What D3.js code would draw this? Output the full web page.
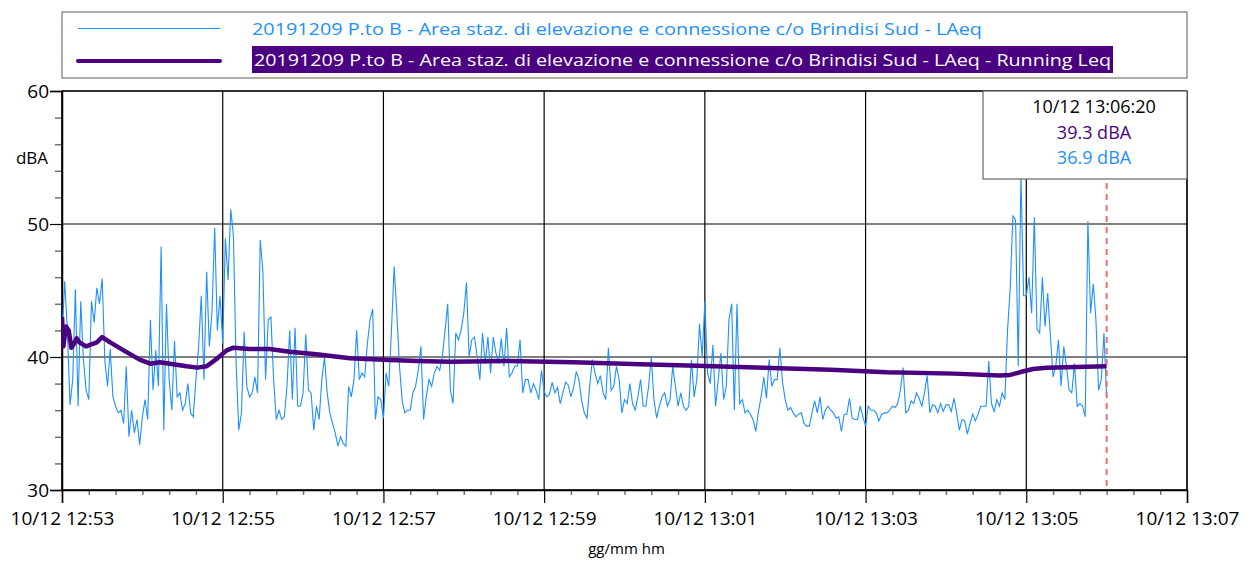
<!DOCTYPE html>
<html>
<head>
<meta charset="utf-8">
<script src="https://cdn.jsdelivr.net/npm/d3@7"></script>
<style>
  body { margin: 0; background: #fff; }
  text { font-family: "Open Sans", sans-serif; }
</style>
</head>
<body>
<div id="chart"></div>
<script>
// measurement start, one LAeq value every 2 s
const START = new Date(2019, 11, 10, 12, 53, 20);
const STEP_S = 2;

const LAEQ = [
  41.5,45.7,42,36.4,38.3,45.1,36.3,44.2,39.8,37.5,
  36.8,44.2,42.6,45.2,44,45.9,39.7,37.8,40.6,37,
  36.3,35.8,36,35,39.3,34,36,34.3,35.3,33.4,
  35.5,36.8,35.3,42.8,37.5,40.5,37.8,48.3,34.5,44,
  38.3,36,41.2,37,37.3,36,36.5,38,35.8,35.5,
  38.3,40.8,44.6,38.3,46.4,40.8,43.4,49.7,42,44.6,
  41,48.9,45.8,51.1,49.1,39.5,34.5,35.8,41.9,37.8,
  37,37.3,38.5,37.3,48.8,46.4,38.3,42.8,43,38.3,
  35.3,36,35.3,35.5,37.8,42,36.8,42.2,36.3,36.3,
  37.3,41.7,37.5,37.3,34.5,36.3,35.3,38.3,40,37.3,
  35.8,35,34.3,33.3,34,33.5,33.3,37.8,37,38.3,
  42,38.3,38.8,38.5,41,42.8,43.6,35.3,37,36.8,
  35.4,38.8,37.8,42,46.8,43.3,39.3,36.7,35.8,36,
  36,37.3,37.8,39,40.8,35.3,37,38.3,37.8,38.8,
  39.3,39,40,42,44,37.5,36.5,41.8,41.3,42,
  43.3,45.6,40,41.3,41.5,40,38.3,41.8,39.5,41.5,
  38.8,41.5,40.3,39.5,41.4,39.3,42.2,38.5,38.8,39.3,
  39.3,41.3,37.3,38.3,38.3,37.3,38,37.5,36.8,39,
  37.4,37,37.2,38.1,37.3,37.7,36.5,37.3,38.1,37.9,
  37,37.7,38.9,38.3,36.7,35.8,35.4,37.8,39.8,38.8,
  38,38.6,37.3,36.8,40.7,37.5,37.8,39.3,38.3,35.8,
  36.8,36.5,38,36.5,36,37,38.3,36.3,36.3,37.8,
  40,36.8,35.4,36.3,37,37.3,36.3,36.8,39.3,37.8,
  36.3,37.3,36.3,36,36.3,39.8,37,38.3,42.5,40,
  44.2,38.8,38,40.9,36.3,38.3,40.3,36.8,37.8,42.8,
  44,36,44,36.5,36.8,35.8,36,35.7,35.3,34.4,
  35.9,37,38.5,36.9,39.8,37.8,38.3,38.3,40.7,38.1,
  36.8,36,36.2,35.8,35.5,35.7,35.8,35,34.8,34.8,
  35.8,36.7,35.8,37,35.3,36,36.3,36,35.8,35.4,
  35.5,34.4,35.7,35.7,36.9,35.4,35.3,35.3,36.3,35.5,
  34.8,36.3,36,36,35.8,35.2,35.7,35.8,35.8,36,
  36.3,36.2,36.5,37.5,39.2,35.8,36,36.7,36.5,37.3,
  36.9,36.3,37.3,38.6,35.8,36.4,36.3,35.8,36.5,35.9,
  36.4,36.4,35.9,36.9,35.8,34.5,35.3,35.2,34.2,35,
  35.7,35.2,35.7,36.3,36.3,36.3,39.7,36.5,35.9,36.8,
  36.3,37.3,36.8,42,45.2,50.6,50.3,39.3,53.7,44.6,
  44.6,46,43.3,50.5,42.1,41.8,46,42.3,44.8,41.6,
  38.5,39.3,41.3,37.8,40.8,39.3,37.5,37.3,39.5,36.3,
  36.5,36.3,35.5,50.2,43.3,45.5,42.8,37.5,38.3,41.8,
  36.9
];

// running Leq, seconds from START
const RUN_T = [0,1,3,5,7,9,11,13,18,26,30,36,46,58,66,73,93,101,108,116,123,128,140,155,170,190,215,240,265,290,332,382,432,474,524,574,616,666,700,708,715,725,735,780];
const RUN_LEQ = [43.0,40.8,42.3,42.0,40.7,41.0,41.4,41.1,40.8,41.1,41.5,41.1,40.5,39.8,39.5,39.6,39.3,39.2,39.3,39.9,40.5,40.7,40.6,40.6,40.4,40.2,39.9,39.8,39.7,39.65,39.7,39.6,39.45,39.35,39.2,39.05,38.85,38.75,38.6,38.65,38.85,39.1,39.2,39.3];

const Y_MAJOR = [30, 40, 50, 60];
const Y_MINOR = [32, 34, 36, 38, 42, 44, 46, 48, 52, 54, 56, 58];
const X_MAJOR_MIN = [0, 2, 4, 6, 8, 10, 12, 14];
const CURSOR_S = 780;

const LEGEND_LABELS = [
  "20191209 P.to B - Area staz. di elevazione e connessione c/o Brindisi Sud - LAeq",
  "20191209 P.to B - Area staz. di elevazione e connessione c/o Brindisi Sud - LAeq - Running Leq"
];
const BLUE = "#1e90ff", PURPLE = "#4b0082";

const width = 1254, height = 561;
const plot = {left: 62, right: 1187, top: 91, bottom: 490};

const svg = d3.select("#chart").append("svg")
  .attr("width", width).attr("height", height);

const secs = s => new Date(+START + s * 1000);

let x = d3.scaleTime()
  .domain([START, secs(14 * 60)])
  .range([plot.left, plot.right]);
let y = d3.scaleLinear()
  .domain([30, 60])
  .range([plot.bottom, plot.top]);

const laeqData = LAEQ.map((v, i) => ({t: secs(i * STEP_S), v: v}));
const runData = RUN_T.map((s, i) => ({t: secs(s), v: RUN_LEQ[i]}));
const xMajor = X_MAJOR_MIN.map(m => secs(m * 60));
const xMinor = d3.range(0, 14 * 60 + 1, 20).filter(s => s % 120 != 0).map(secs);

// grid
svg.append("g").selectAll("line").data(xMajor).join("line")
  .attr("x1", d => x(d)).attr("x2", d => x(d))
  .attr("y1", plot.top).attr("y2", plot.bottom)
  .attr("stroke", "#000").attr("stroke-width", 1.2);
svg.append("g").selectAll("line").data(Y_MAJOR).join("line")
  .attr("x1", plot.left).attr("x2", plot.right)
  .attr("y1", d => y(d)).attr("y2", d => y(d))
  .attr("stroke", "#000").attr("stroke-width", 1.2);

// minor ticks
svg.append("g")
  .attr("transform", `translate(0,${plot.bottom})`)
  .call(d3.axisBottom(x).tickValues(xMinor).tickSize(5).tickFormat(""))
  .call(g => g.select(".domain").remove())
  .call(g => g.selectAll("line").attr("stroke", "#707070").attr("stroke-width", 1.5));
svg.append("g")
  .attr("transform", `translate(${plot.left},0)`)
  .call(d3.axisLeft(y).tickValues(Y_MINOR).tickSize(7).tickFormat(""))
  .call(g => g.select(".domain").remove())
  .call(g => g.selectAll("line").attr("stroke", "#707070").attr("stroke-width", 1.5));

// major axes
svg.append("g")
  .attr("transform", `translate(0,${plot.bottom})`)
  .call(d3.axisBottom(x).tickValues(xMajor).tickSize(13).tickPadding(9)
    .tickFormat(d3.timeFormat("%d/%m %H:%M")))
  .call(g => g.select(".domain").attr("stroke-width", 1.5))
  .call(g => g.selectAll("line").attr("stroke-width", 1.2))
  .call(g => g.selectAll("text").attr("font-size", 19).attr("fill", "#000")
    .attr("font-family", "Open Sans"));
svg.append("g")
  .attr("transform", `translate(${plot.left},0)`)
  .call(d3.axisLeft(y).tickValues(Y_MAJOR).tickSize(12).tickPadding(1).tickFormat(d3.format("d")))
  .call(g => g.select(".domain").attr("stroke-width", 1.5))
  .call(g => g.selectAll("line").attr("stroke-width", 1.2))
  .call(g => g.selectAll("text").attr("font-size", 19).attr("fill", "#000")
    .attr("font-family", "Open Sans"));

// frame top/right
svg.append("rect")
  .attr("x", plot.left).attr("y", plot.top)
  .attr("width", plot.right - plot.left).attr("height", plot.bottom - plot.top)
  .attr("fill", "none").attr("stroke", "#000").attr("stroke-width", 1.2);

svg.append("text").attr("x", 32).attr("y", 164)
  .attr("text-anchor", "middle").attr("font-size", 17).text("dBA");
svg.append("text").attr("x", (plot.left + plot.right) / 2 + 2).attr("y", 554)
  .attr("text-anchor", "middle").attr("font-size", 15).text("gg/mm hm");

// data
svg.append("clipPath").attr("id", "clip").append("rect")
  .attr("x", plot.left).attr("y", plot.top)
  .attr("width", plot.right - plot.left).attr("height", plot.bottom - plot.top);

const line = d3.line().x(d => x(d.t)).y(d => y(d.v));

svg.append("path")
  .datum(laeqData)
  .attr("clip-path", "url(#clip)")
  .attr("fill", "none")
  .attr("stroke", BLUE)
  .attr("stroke-width", 1.1)
  .attr("d", line);

svg.append("path")
  .datum(runData)
  .attr("clip-path", "url(#clip)")
  .attr("fill", "none")
  .attr("stroke", PURPLE)
  .attr("stroke-width", 4.5)
  .attr("stroke-linejoin", "round")
  .attr("d", line);

// cursor + readout
const cx = x(secs(CURSOR_S));
svg.append("line")
  .attr("x1", cx).attr("x2", cx).attr("y1", 183).attr("y2", plot.bottom)
  .attr("stroke", "#f56b6b").attr("stroke-width", 2)
  .attr("stroke-dasharray", "6,5");

svg.append("rect")
  .attr("x", 983).attr("y", plot.top)
  .attr("width", plot.right - 983).attr("height", 88)
  .attr("fill", "#fff").attr("stroke", "#666").attr("stroke-width", 1.2);

const fmt = d3.format(".1f");
const tipLines = [
  {txt: d3.timeFormat("%d/%m %H:%M:%S")(secs(CURSOR_S)), col: "#000"},
  {txt: fmt(RUN_LEQ[RUN_LEQ.length - 1]) + " dBA", col: PURPLE},
  {txt: fmt(LAEQ[LAEQ.length - 1]) + " dBA", col: BLUE}
];
svg.append("g").selectAll("text").data(tipLines).join("text")
  .attr("x", 1094).attr("y", (d, i) => 113 + i * 25.5)
  .attr("text-anchor", "middle").attr("font-size", 18)
  .attr("fill", d => d.col).text(d => d.txt);

// legend
svg.append("rect")
  .attr("x", plot.left).attr("y", 12)
  .attr("width", plot.right - plot.left).attr("height", 66)
  .attr("fill", "#fff").attr("stroke", "#777").attr("stroke-width", 1.2);

svg.append("line").attr("x1", 78).attr("x2", 220).attr("y1", 28.5).attr("y2", 28.5)
  .attr("stroke", BLUE).attr("stroke-width", 1.2);
svg.append("line").attr("x1", 78).attr("x2", 220).attr("y1", 61).attr("y2", 61)
  .attr("stroke", PURPLE).attr("stroke-width", 4).attr("stroke-linecap", "round");

svg.append("text").attr("x", 252).attr("y", 35)
  .attr("font-size", 17).attr("fill", BLUE)
  .attr("textLength", 730).attr("lengthAdjust", "spacingAndGlyphs")
  .text(LEGEND_LABELS[0]);
svg.append("rect").attr("x", 252).attr("y", 46).attr("width", 861).attr("height", 27)
  .attr("fill", PURPLE);
svg.append("text").attr("x", 254).attr("y", 66)
  .attr("font-size", 17).attr("fill", "#fff")
  .attr("textLength", 857).attr("lengthAdjust", "spacingAndGlyphs")
  .text(LEGEND_LABELS[1]);
</script>
</body>
</html>
